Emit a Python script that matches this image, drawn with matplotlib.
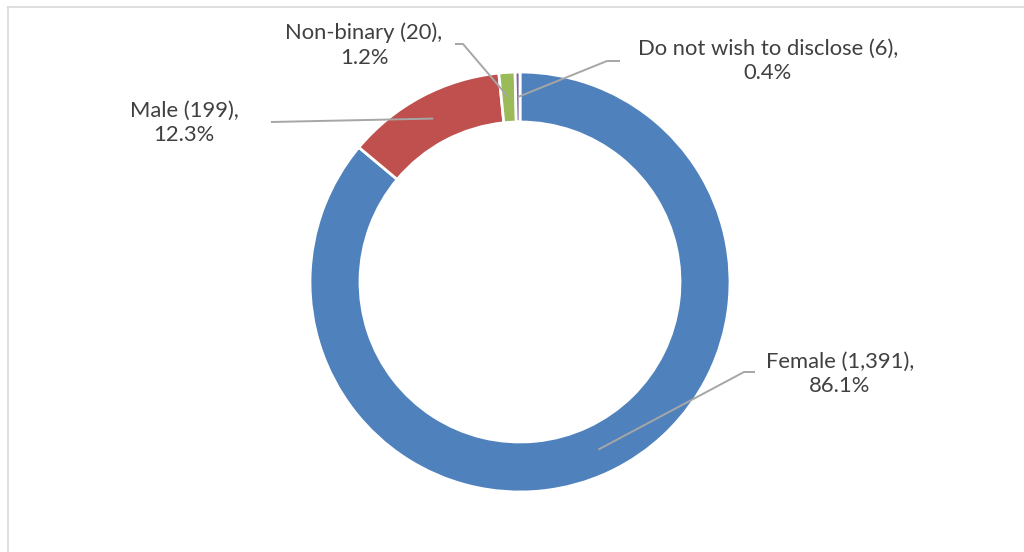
import numpy as np
import matplotlib.pyplot as plt
from matplotlib.patches import Wedge

plt.rcParams['font.family'] = ['Lato', 'DejaVu Sans']

labels = ['Female', 'Male', 'Non-binary', 'Do not wish to disclose']
counts = [1391, 199, 20, 6]
colors = ['#4F81BD', '#C0504D', '#9BBB59', '#8064A2']

# label text centre and leader elbow for each slice (pixel coords, y down)
label_pos = [(840, 374), (184, 123), (364, 45), (768, 61)]
elbows = [[(755, 372), (744, 372)],
          [(271, 122)],
          [(455, 44), (463, 44)],
          [(620, 61), (607, 61)]]

W, H = 1024, 552
cx, cy = 520, 282
r_out, ring = 210, 50

fig = plt.figure(figsize=(W / 100, H / 100), dpi=100)
ax = fig.add_axes([0, 0, 1, 1])
ax.set_xlim(0, W)
ax.set_ylim(H, 0)
ax.set_aspect('equal')
ax.axis('off')

total = sum(counts)
fracs = [c / total for c in counts]

# ring slices, clockwise from 12 o'clock (y axis points down)
start = 0.0
mids = []
for f, col in zip(fracs, colors):
    a0 = -90 + start * 360
    a1 = -90 + (start + f) * 360
    ax.add_patch(Wedge((cx, cy), r_out, a0, a1, width=ring,
                       facecolor=col, edgecolor='white', linewidth=2))
    mids.append(np.radians(-90 + (start + f / 2) * 360))
    start += f

grey = '#A6A6A6'
txt = '#404040'
r_mid = r_out - ring / 2
for lab, c, f, m, (tx, ty), pts in zip(labels, counts, fracs, mids, label_pos, elbows):
    end = (cx + r_mid * np.cos(m), cy + r_mid * np.sin(m))
    path = pts + [end]
    ax.plot([p[0] for p in path], [p[1] for p in path], color=grey, lw=1.4,
            solid_capstyle='butt')
    ax.text(tx, ty, f'{lab} ({c:,}),\n{f * 100:.1f}%', ha='center', va='center',
            fontsize=15.8, color=txt, linespacing=1.3)

# chart frame
ax.plot([8, W], [7, 7], color='#D9D9D9', lw=1.2)
ax.plot([8, 8], [7, H], color='#D9D9D9', lw=1.2)

fig.savefig('out.png', dpi=100, facecolor='white')
